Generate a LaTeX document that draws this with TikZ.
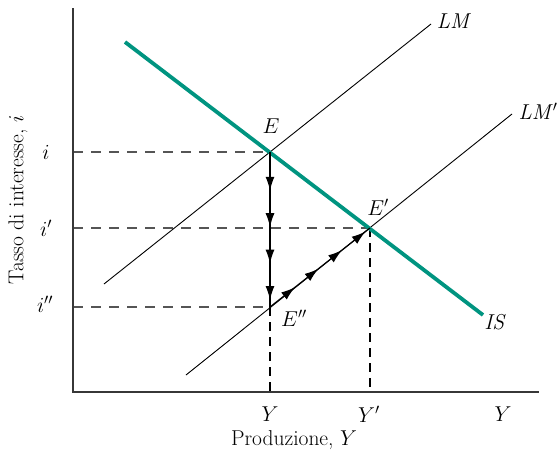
\documentclass[tikz,border=0pt]{standalone}
\usepackage{fix-cm}
\usetikzlibrary{decorations.markings,arrows.meta}
\definecolor{isgreen}{RGB}{0,148,128}
\definecolor{axisgray}{RGB}{55,55,55}
\definecolor{dashgray}{RGB}{85,85,85}
\begin{document}
\begin{tikzpicture}[x=1pt,y=-1pt,
  lbl/.style={font=\fontsize{21.5}{25}\selectfont, inner sep=0pt},
  axisline/.style={draw=axisgray, line width=1.4pt},
  lmline/.style={draw=black, line width=0.9pt},
  isline/.style={draw=isgreen, line width=3.8pt},
  hguide/.style={draw=dashgray, line width=1.2pt, dash pattern=on 10pt off 8pt},
  vguide/.style={draw=black, line width=1.1pt, dash pattern=on 9pt off 6pt},
  flowhead/.style={decoration={markings,
      mark=at position 0.25 with {\arrow{Latex[length=14pt,width=9pt]}},
      mark=at position 0.485 with {\arrow{Latex[length=14pt,width=9pt]}},
      mark=at position 0.72 with {\arrow{Latex[length=14pt,width=9pt]}},
      mark=at position 0.955 with {\arrow{Latex[length=14pt,width=9pt]}}},
    postaction=decorate},
  flow/.style={draw=black, line width=1.4pt, flowhead}
]
\useasboundingbox (0,0) rectangle (560,456);

% key points
\coordinate (O) at (73,392);
\coordinate (ytop) at (73,8);
\coordinate (xend) at (539,392);
\coordinate (E) at (270,152);
\coordinate (Ep) at (370,228);
\coordinate (Epp) at (270,307);
\coordinate (ISa) at (125,42);
\coordinate (ISb) at (483,315);
\coordinate (LMa) at (104,284);
\coordinate (LMb) at (431,24);
\coordinate (LMpa) at (186,375);
\coordinate (LMpb) at (512,114);

% guides
\draw[hguide] (O |- E) -- (E);
\draw[hguide] (O |- Ep) -- (Ep);
\draw[hguide] (O |- Epp) -- (Epp);
\draw[vguide] (Epp) -- (Epp |- O);
\draw[vguide] (Ep) -- (Ep |- O);

% curves
\draw[lmline] (LMa) -- (LMb);
\draw[lmline] (LMpa) -- (LMpb);
\draw[isline] (ISa) -- (ISb);

% adjustment path
\draw[flow] (E) -- (Epp);
\draw[flow, line width=1.2pt] (Epp) -- (Ep);

% axes
\draw[axisline] (ytop) -- (O) -- (xend);

% labels
\node[lbl] (lE) at (271,126) {$E$};
\node[lbl] (lEp) at (378,207) {$E'$};
\node[lbl] (lEpp) at (294,318) {$E''$};
\node[lbl] (lLM) at (454,21) {\textit{LM}};
\node[lbl] (lLMp) at (538,111) {\textit{LM}$'$};
\node[lbl] (lIS) at (495,322) {\textit{IS}};
\node[lbl] (li) at (46,152) {$i$};
\node[lbl] (lip) at (46,228) {$i'$};
\node[lbl] (lipp) at (45,304) {$i''$};
\node[lbl] (lY) at (270,414) {$Y$};
\node[lbl] (lYp) at (369,414) {$Y'$};
\node[lbl] (lY2) at (503,414) {$Y$};
\node[lbl] (xlab) at (294,440) {Produzione, $Y$};
\node[lbl, rotate=90] (ylab) at (18,200) {Tasso di interesse, $i$};
\end{tikzpicture}
\end{document}
